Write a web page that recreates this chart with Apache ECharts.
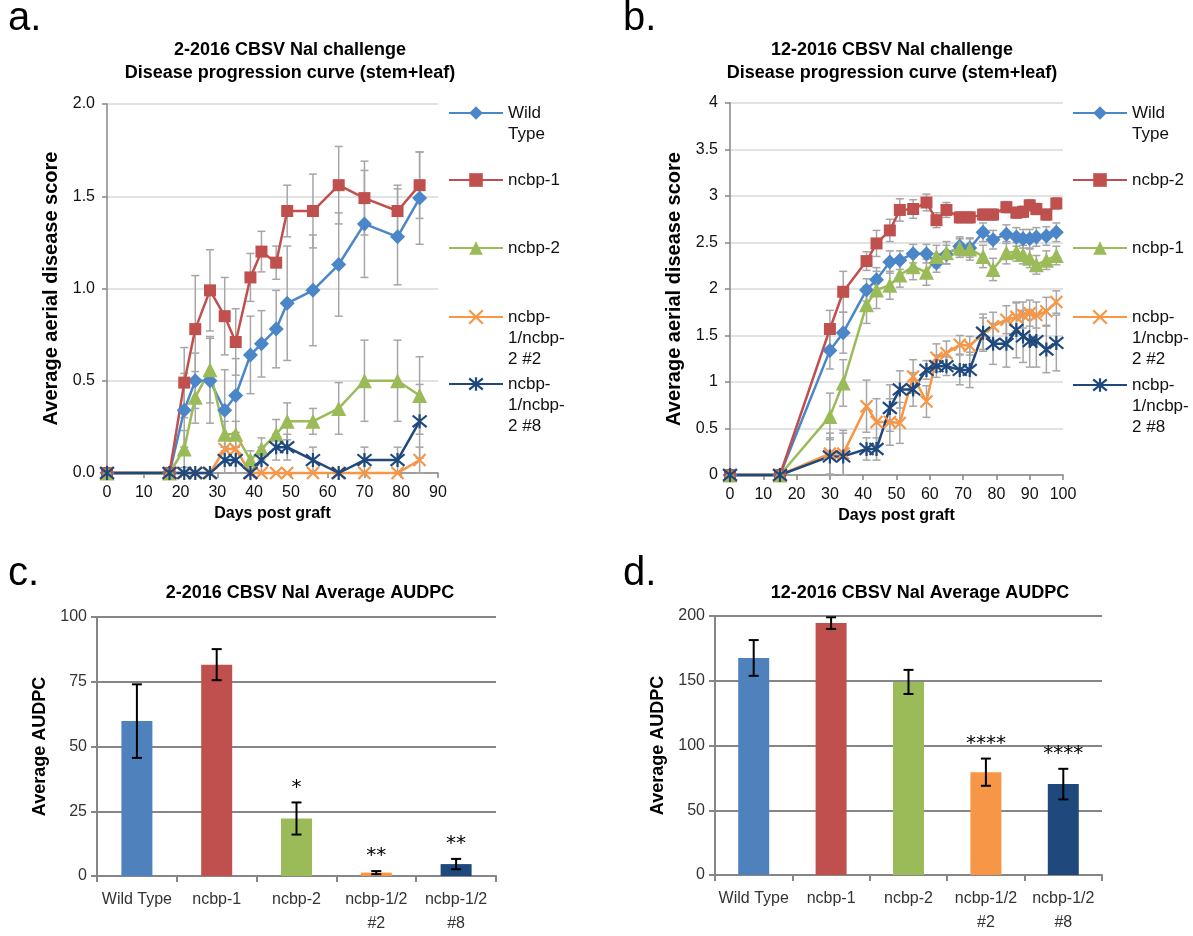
<!DOCTYPE html>
<html>
<head>
<meta charset="utf-8">
<script src="https://cdn.jsdelivr.net/npm/echarts@6/dist/echarts.min.js"></script>
<style>
  body { margin: 0; background: #fff; width: 1193px; height: 936px; position: relative; overflow: hidden; }
  .panel { position: absolute; }
  #chart-a { left: 0; top: 0; width: 600px; height: 540px; }
  #chart-b { left: 600px; top: 0; width: 593px; height: 540px; }
  #chart-c { left: 0; top: 540px; width: 600px; height: 396px; }
  #chart-d { left: 600px; top: 540px; width: 593px; height: 396px; }
</style>
</head>
<body>
<div id="chart-a" class="panel"></div>
<div id="chart-b" class="panel"></div>
<div id="chart-c" class="panel"></div>
<div id="chart-d" class="panel"></div>
<script>
const FONT = "'Liberation Sans', Arial, sans-serif";

// --- a. 2-2016 disease progression ---
const daysA = [0, 17, 21, 24, 28, 32, 35, 39, 42, 46, 49, 56, 63, 70, 79, 85];
const wtA = [0, 0, 0.34, 0.50, 0.50, 0.34, 0.42, 0.64, 0.70, 0.78, 0.92, 0.99, 1.13, 1.35, 1.28, 1.49];
const wtAErr = [0, 0, 0.2, 0.15, 0.23, 0.22, 0.2, 0.21, 0.18, 0.21, 0.31, 0.3, 0.28, 0.29, 0.26, 0.25];
const ncbp1A = [0, 0, 0.49, 0.78, 0.99, 0.85, 0.71, 1.06, 1.20, 1.14, 1.42, 1.42, 1.56, 1.49, 1.42, 1.56];
const ncbp1AErr = [0, 0, 0.19, 0.29, 0.22, 0.21, 0.18, 0.13, 0.11, 0.09, 0.14, 0.2, 0.21, 0.2, 0.14, 0.18];
const ncbp2A = [0, 0, 0.13, 0.41, 0.56, 0.21, 0.21, 0.07, 0.13, 0.21, 0.28, 0.28, 0.35, 0.50, 0.50, 0.42];
const ncbp2AErr = [0, 0, 0.1, 0.14, 0.18, 0.07, 0.07, 0.05, 0.06, 0.08, 0.1, 0.07, 0.14, 0.22, 0.22, 0.21];
const dbl2A = [0, 0, 0, 0, 0, 0.13, 0.13, 0, 0, 0, 0, 0, 0, 0, 0, 0.07];
const dbl2AErr = [0, 0, 0, 0, 0, 0.07, 0.07, 0, 0, 0, 0, 0, 0, 0, 0, 0.07];
const dbl8A = [0, 0, 0, 0, 0, 0.07, 0.07, 0, 0.07, 0.14, 0.14, 0.07, 0, 0.07, 0.07, 0.28];
const dbl8AErr = [0, 0, 0, 0, 0, 0.07, 0.07, 0, 0.07, 0.07, 0.07, 0.07, 0, 0.07, 0.07, 0.2];

// --- b. 12-2016 disease progression ---
const daysB = [0, 15, 30, 34, 41, 44, 48, 51, 55, 59, 62, 65, 69, 72, 76, 79, 83, 86, 88, 90, 92, 95, 98];
const wtB = [0, 0, 1.34, 1.53, 1.99, 2.10, 2.29, 2.31, 2.38, 2.38, 2.28, 2.37, 2.46, 2.44, 2.61, 2.53, 2.59, 2.56, 2.54, 2.54, 2.56, 2.57, 2.61];
const wtBErr = [0, 0, 0.2, 0.22, 0.12, 0.13, 0.12, 0.1, 0.1, 0.1, 0.1, 0.1, 0.1, 0.1, 0.1, 0.1, 0.1, 0.1, 0.1, 0.1, 0.1, 0.1, 0.1];
const ncbp2B = [0, 0, 1.57, 1.97, 2.30, 2.49, 2.63, 2.85, 2.86, 2.93, 2.74, 2.85, 2.77, 2.77, 2.80, 2.80, 2.88, 2.82, 2.83, 2.90, 2.86, 2.80, 2.92];
const ncbp2BErr = [0, 0, 0.2, 0.22, 0.1, 0.14, 0.12, 0.12, 0.1, 0.09, 0.08, 0.08, 0.06, 0.06, 0.06, 0.06, 0.06, 0.06, 0.06, 0.06, 0.06, 0.06, 0.06];
const ncbp1B = [0, 0, 0.63, 0.99, 1.83, 1.99, 2.04, 2.15, 2.24, 2.18, 2.35, 2.39, 2.44, 2.43, 2.35, 2.21, 2.39, 2.40, 2.37, 2.33, 2.26, 2.31, 2.36];
const ncbp1BErr = [0, 0, 0.25, 0.25, 0.2, 0.2, 0.15, 0.13, 0.14, 0.14, 0.12, 0.12, 0.1, 0.12, 0.12, 0.12, 0.12, 0.1, 0.1, 0.1, 0.1, 0.1, 0.1];
const dbl2B = [0, 0, 0.23, 0.23, 0.74, 0.57, 0.57, 0.56, 1.06, 0.79, 1.26, 1.31, 1.40, 1.39, 1.52, 1.60, 1.67, 1.70, 1.72, 1.74, 1.72, 1.76, 1.86];
const dbl2BErr = [0, 0, 0.22, 0.25, 0.28, 0.25, 0.25, 0.22, 0.18, 0.17, 0.15, 0.13, 0.1, 0.1, 0.17, 0.15, 0.15, 0.15, 0.14, 0.14, 0.14, 0.15, 0.12];
const dbl8B = [0, 0, 0.20, 0.20, 0.28, 0.28, 0.72, 0.92, 0.92, 1.13, 1.17, 1.17, 1.13, 1.13, 1.53, 1.41, 1.41, 1.56, 1.49, 1.44, 1.44, 1.35, 1.42];
const dbl8BErr = [0, 0, 0.2, 0.25, 0.12, 0.12, 0.25, 0.2, 0.18, 0.1, 0.12, 0.1, 0.16, 0.19, 0.2, 0.22, 0.25, 0.3, 0.28, 0.28, 0.28, 0.25, 0.3];

// --- c. / d. AUDPC bars ---
const genotypes = ["Wild Type", "ncbp-1", "ncbp-2", "ncbp-1/2\n#2", "ncbp-1/2\n#8"];
const audpcC = [59.8, 81.6, 22.2, 1.3, 4.6];
const audpcCErr = [14.2, 6.0, 6.2, 0.6, 2.0];
const starsC = ["", "", "*", "**", "**"];
const audpcD = [167.6, 194.5, 149.1, 79.4, 70.2];
const audpcDErr = [13.8, 4.5, 9.3, 10.5, 11.8];
const starsD = ["", "", "", "****", "****"];

const BLUE = "#4a86c8", RED = "#c0504d", GREEN = "#9bbb59", ORANGE = "#f79646", NAVY = "#1f497d";
const BAR_COLORS = ["#4f81bd", "#c0504d", "#9bbb59", "#f79646", "#1f497d"];
const X_SYMBOL = "path://M0,0L20,20M20,0L0,20";
const STAR_SYMBOL = "path://M0,2L20,22M20,2L0,22M10,0L10,24";

function lineSeries(name, days, vals, color, symbol, size) {
  const stroke = symbol.indexOf("path://") === 0;
  return {
    name: name,
    type: "line",
    z: 3,
    clip: false,
    showAllSymbol: true,
    data: days.map((d, i) => [d, vals[i]]),
    symbol: symbol,
    symbolSize: size,
    lineStyle: { color: color, width: 2.5 },
    itemStyle: { color: color, borderColor: color, borderWidth: stroke ? 2.2 : 0 },
    emphasis: { disabled: true },
  };
}

// error bars (+ optional significance stars) as a custom series
function errorSeries(xs, ys, err, color, cap, width, stars) {
  const idx = [];
  const data = [];
  xs.forEach((x, i) => {
    if (err[i] > 0) {
      idx.push(i);
      data.push([x, Math.max(0, ys[i] - err[i]), ys[i] + err[i]]);
    }
  });
  return {
    type: "custom",
    silent: true,
    z: stars ? 4 : 2,
    data: data,
    encode: { x: 0, y: [1, 2] },
    renderItem: (params, api) => {
      const lo = api.coord([api.value(0), api.value(1)]);
      const hi = api.coord([api.value(0), api.value(2)]);
      const style = { stroke: color, lineWidth: width };
      const children = [
        { type: "line", shape: { x1: lo[0], y1: lo[1], x2: hi[0], y2: hi[1] }, style: style },
        { type: "line", shape: { x1: lo[0] - cap, y1: lo[1], x2: lo[0] + cap, y2: lo[1] }, style: style },
        { type: "line", shape: { x1: hi[0] - cap, y1: hi[1], x2: hi[0] + cap, y2: hi[1] }, style: style },
      ];
      const star = stars ? stars[idx[params.dataIndex]] : "";
      if (star) {
        children.push({
          type: "text",
          style: {
            text: star, x: hi[0], y: hi[1] - 15, align: "center", verticalAlign: "middle",
            font: "20px 'DejaVu Sans', sans-serif", fill: "#000",
          },
        });
      }
      return { type: "group", children: children };
    },
  };
}

// one legend per entry so the icon sits on the first text line, like Excel
function legendItems(names, labels, left, centers) {
  const lh = 21;
  return names.map((name, i) => {
    const n = labels[i].split("\n").length;
    const shown = "\n".repeat(n - 1) + labels[i];
    return {
      data: [name],
      orient: "vertical",
      left: left,
      top: centers[i] - ((2 * n - 1) * lh) / 2,
      padding: 0,
      itemWidth: 54,
      itemHeight: 17,
      itemGap: 0,
      selectedMode: false,
      itemStyle: i >= 3 ? { borderWidth: 2.2 } : {},
      formatter: () => shown,
      textStyle: { fontFamily: FONT, fontSize: 17, lineHeight: lh, color: "#111" },
    };
  });
}

function lineAxes(xMax, yMax, yFmt, yNameGap) {
  const axisLine = { show: true, lineStyle: { color: "#868686", width: 1.5 } };
  return {
    xAxis: {
      type: "value", min: 0, max: xMax, interval: 10,
      name: "Days post graft", nameLocation: "middle", nameGap: 30,
      nameTextStyle: { fontFamily: FONT, fontSize: 16, fontWeight: "bold", color: "#000" },
      axisLine: axisLine,
      axisTick: { show: true, length: 5, lineStyle: { color: "#868686", width: 1.5 } },
      axisLabel: { fontFamily: FONT, fontSize: 16, color: "#111", margin: 12 },
      splitLine: { show: false },
    },
    yAxis: {
      type: "value", min: 0, max: yMax, interval: 0.5,
      name: "Average aerial disease score", nameLocation: "middle", nameGap: yNameGap,
      nameTextStyle: { fontFamily: FONT, fontSize: 20, fontWeight: "bold", color: "#000" },
      axisLine: axisLine,
      axisTick: { show: true, length: 5, lineStyle: { color: "#868686", width: 1.5 } },
      axisLabel: { fontFamily: FONT, fontSize: 16, color: "#111", margin: 12, formatter: yFmt },
      splitLine: { show: true, lineStyle: { color: "#d9d9d9", width: 1.5 } },
    },
  };
}

function titleGraphics(letter, lx, ly, title, tx, ty, titleSize, lh) {
  return [
    { type: "text", x: lx, y: ly, style: { text: letter, font: `40px ${FONT}`, fill: "#000", verticalAlign: "middle" } },
    {
      type: "text", x: tx, y: ty,
      style: { text: title, font: `bold ${titleSize}px ${FONT}`, lineHeight: lh, fill: "#000", align: "center", verticalAlign: "middle" },
    },
  ];
}

// ---- a ----
const chartA = echarts.init(document.getElementById("chart-a"));
const axesA = lineAxes(90, 2, (v) => v.toFixed(1), 46);
chartA.setOption({
  animation: false,
  grid: { left: 107, right: 162, top: 104, bottom: 67, outerBoundsMode: "none" },
  xAxis: axesA.xAxis,
  yAxis: axesA.yAxis,
  legend: legendItems(
    ["Wild Type", "ncbp-1", "ncbp-2", "ncbp-1/ncbp-2 #2", "ncbp-1/ncbp-2 #8"],
    ["Wild\nType", "ncbp-1", "ncbp-2", "ncbp-\n1/ncbp-\n2 #2", "ncbp-\n1/ncbp-\n2 #8"],
    448, [113, 180, 248, 317, 384]
  ),
  graphic: titleGraphics("a.", 8, 19, "2-2016 CBSV Nal challenge\nDisease progression curve (stem+leaf)", 290, 62, 18, 23),
  series: [
    errorSeries(daysA, wtA, wtAErr, "#a6a6a6", 4, 1.5),
    errorSeries(daysA, ncbp1A, ncbp1AErr, "#a6a6a6", 4, 1.5),
    errorSeries(daysA, ncbp2A, ncbp2AErr, "#a6a6a6", 4, 1.5),
    errorSeries(daysA, dbl2A, dbl2AErr, "#a6a6a6", 4, 1.5),
    errorSeries(daysA, dbl8A, dbl8AErr, "#a6a6a6", 4, 1.5),
    lineSeries("Wild Type", daysA, wtA, BLUE, "diamond", 15),
    lineSeries("ncbp-1", daysA, ncbp1A, RED, "rect", 12),
    lineSeries("ncbp-2", daysA, ncbp2A, GREEN, "triangle", 15),
    lineSeries("ncbp-1/ncbp-2 #2", daysA, dbl2A, ORANGE, X_SYMBOL, 12),
    lineSeries("ncbp-1/ncbp-2 #8", daysA, dbl8A, NAVY, STAR_SYMBOL, 14),
  ],
});

// ---- b ----
const chartB = echarts.init(document.getElementById("chart-b"));
const axesB = lineAxes(100, 4, null, 40);
chartB.setOption({
  animation: false,
  grid: { left: 130, right: 130, top: 103, bottom: 65, outerBoundsMode: "none" },
  xAxis: axesB.xAxis,
  yAxis: axesB.yAxis,
  legend: legendItems(
    ["Wild Type", "ncbp-2", "ncbp-1", "ncbp-1/ncbp-2 #2", "ncbp-1/ncbp-2 #8"],
    ["Wild\nType", "ncbp-2", "ncbp-1", "ncbp-\n1/ncbp-\n2 #2", "ncbp-\n1/ncbp-\n2 #8"],
    472, [113, 180, 248, 317, 385]
  ),
  graphic: titleGraphics("b.", 23, 19, "12-2016 CBSV Nal challenge\nDisease progression curve (stem+leaf)", 292, 62, 18, 23),
  series: [
    errorSeries(daysB, wtB, wtBErr, "#a6a6a6", 4, 1.5),
    errorSeries(daysB, ncbp2B, ncbp2BErr, "#a6a6a6", 4, 1.5),
    errorSeries(daysB, ncbp1B, ncbp1BErr, "#a6a6a6", 4, 1.5),
    errorSeries(daysB, dbl2B, dbl2BErr, "#a6a6a6", 4, 1.5),
    errorSeries(daysB, dbl8B, dbl8BErr, "#a6a6a6", 4, 1.5),
    lineSeries("Wild Type", daysB, wtB, BLUE, "diamond", 15),
    lineSeries("ncbp-2", daysB, ncbp2B, RED, "rect", 12),
    lineSeries("ncbp-1", daysB, ncbp1B, GREEN, "triangle", 15),
    lineSeries("ncbp-1/ncbp-2 #2", daysB, dbl2B, ORANGE, X_SYMBOL, 12),
    lineSeries("ncbp-1/ncbp-2 #8", daysB, dbl8B, NAVY, STAR_SYMBOL, 14),
  ],
});

// ---- bar panels ----
function barOption(letter, title, values, err, stars, yMax, interval, grid, yNameGap, titleX, letterX) {
  const gray = "#868686";
  return {
    animation: false,
    grid: Object.assign({ outerBoundsMode: "none" }, grid),
    graphic: titleGraphics(letter, letterX, 34, title, titleX, 53, 18, 22),
    xAxis: {
      type: "category", data: genotypes,
      axisLine: { show: true, lineStyle: { color: gray, width: 2 } },
      axisTick: { show: true, alignWithLabel: false, length: 6, lineStyle: { color: gray, width: 2 } },
      axisLabel: { fontFamily: FONT, fontSize: 16, color: "#333", margin: 12, lineHeight: 24, interval: 0 },
    },
    yAxis: {
      type: "value", min: 0, max: yMax, interval: interval,
      name: "Average AUDPC", nameLocation: "middle", nameGap: yNameGap,
      nameTextStyle: { fontFamily: FONT, fontSize: 18, fontWeight: "bold", color: "#000" },
      axisLine: { show: true, lineStyle: { color: gray, width: 2 } },
      axisTick: { show: true, length: 6, lineStyle: { color: gray, width: 2 } },
      axisLabel: { fontFamily: FONT, fontSize: 16, color: "#333", margin: 10 },
      splitLine: { show: true, lineStyle: { color: gray, width: 2 } },
    },
    series: [
      {
        type: "bar", barWidth: 31, z: 2,
        data: values.map((v, i) => ({ value: v, itemStyle: { color: BAR_COLORS[i] } })),
        emphasis: { disabled: true },
      },
      errorSeries(genotypes.map((g, i) => i), values, err, "#000", 5, 2, stars),
    ],
  };
}

const chartC = echarts.init(document.getElementById("chart-c"));
chartC.setOption(barOption("c.", "2-2016 CBSV Nal Average AUDPC", audpcC, audpcCErr, starsC, 100, 25,
  { left: 97, right: 104, top: 77, bottom: 60 }, 42, 310, 8));

const chartD = echarts.init(document.getElementById("chart-d"));
chartD.setOption(barOption("d.", "12-2016 CBSV Nal Average AUDPC", audpcD, audpcDErr, starsD, 200, 50,
  { left: 115, right: 91, top: 76, bottom: 61 }, 42, 320, 23));
</script>
</body>
</html>
